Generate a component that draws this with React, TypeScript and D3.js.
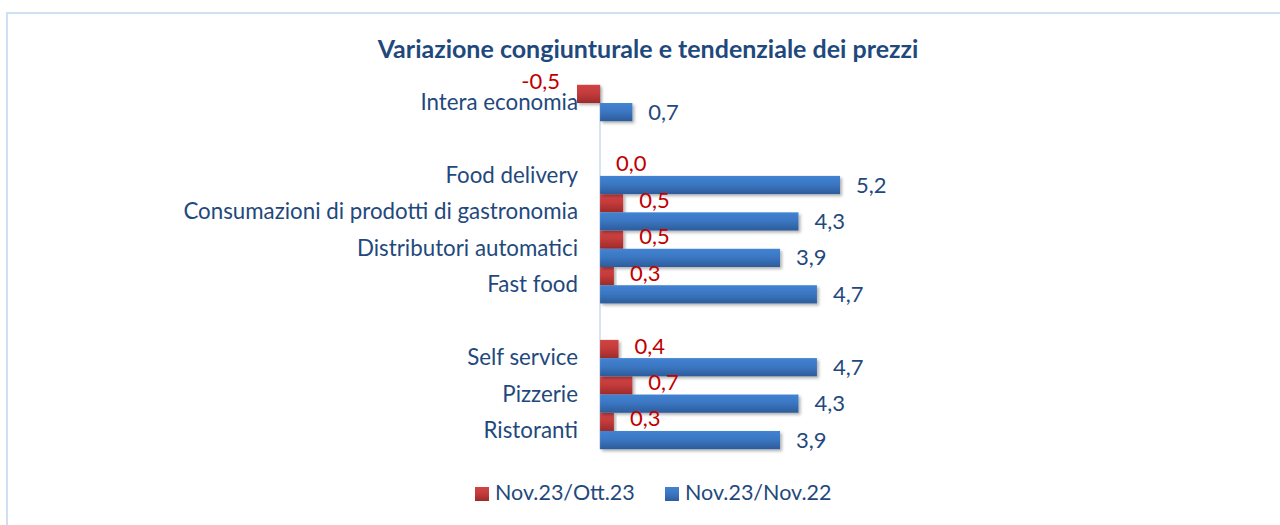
import React from "react";
import * as d3 from "d3";

const title = "Variazione congiunturale e tendenziale dei prezzi";
const categories = [
  "Intera economia",
  "",
  "Food delivery",
  "Consumazioni di prodotti di gastronomia",
  "Distributori automatici",
  "Fast food",
  "",
  "Self service",
  "Pizzerie",
  "Ristoranti",
];
const seriesNames = ["Nov.23/Ott.23", "Nov.23/Nov.22"];
const congiunturale: (number | null)[] = [-0.5, null, 0.0, 0.5, 0.5, 0.3, null, 0.4, 0.7, 0.3];
const tendenziale: (number | null)[] = [0.7, null, 5.2, 4.3, 3.9, 4.7, null, 4.7, 4.3, 3.9];

const W = 1280;
const H = 525;
const FONT = "Lato, 'Open Sans', sans-serif";
const TEXT_BLUE = "#1f497d";
const RED_LABEL = "#c00000";

const fmt = (v: number) => v.toFixed(1).replace(".", ",");

export default function App() {
  const x = d3.scaleLinear().domain([-0.5, 5.2]).range([577, 840]);
  const y = d3
    .scaleBand<number>()
    .domain(categories.map((_, i) => i))
    .range([84.8, 449.2])
    .padding(0);
  const bw = y.bandwidth();
  const half = bw / 2;
  const x0 = x(0);

  const series = [
    { name: seriesNames[0], values: congiunturale, grad: "gradRed", label: RED_LABEL, off: 0 },
    { name: seriesNames[1], values: tendenziale, grad: "gradBlue", label: TEXT_BLUE, off: half },
  ];

  return (
    <div style={{ position: "absolute", left: 0, top: 0 }}>
      <svg width={W} height={H} style={{ display: "block", background: "#fff" }}>
        <defs>
          <linearGradient id="gradRed" x1="0" y1="0" x2="0" y2="1">
            <stop offset="0" stopColor="#d24444" />
            <stop offset="0.5" stopColor="#c23a3a" />
            <stop offset="1" stopColor="#9c2a2a" />
          </linearGradient>
          <linearGradient id="gradBlue" x1="0" y1="0" x2="0" y2="1">
            <stop offset="0" stopColor="#4283d3" />
            <stop offset="0.5" stopColor="#3a75c0" />
            <stop offset="1" stopColor="#2d5c9a" />
          </linearGradient>
          <filter id="shadow" x="-10%" y="-30%" width="130%" height="180%">
            <feDropShadow dx="2" dy="2" stdDeviation="1.5" floodColor="#000" floodOpacity="0.3" />
          </filter>
        </defs>
        <rect x={7} y={13} width={W} height={H} fill="#fff" stroke="#cfe0f2" strokeWidth={2} />
        <text
          x={648}
          y={52}
          textAnchor="middle"
          dominantBaseline="middle"
          fontFamily={FONT}
          fontWeight="bold"
          fontSize={25}
          fill={TEXT_BLUE}
        >
          {title}
        </text>
        <line x1={x0} x2={x0} y1={84.8} y2={449.2} stroke="#d9e4f1" strokeWidth={2} />
        {categories.map((c, i) =>
          c ? (
            <text
              key={"c" + i}
              x={578}
              y={(y(i) as number) + half + 1.5}
              textAnchor="end"
              dominantBaseline="middle"
              fontFamily={FONT}
              fontSize={22.3}
              fill={TEXT_BLUE}
            >
              {c}
            </text>
          ) : null
        )}
        {series.map((s, si) =>
          s.values.map((v, i) => {
            if (v === null) return null;
            const top = (y(i) as number) + s.off;
            const xa = Math.min(x0, x(v));
            const wdt = Math.abs(x(v) - x0);
            return wdt > 0 ? (
              <rect
                key={"b" + si + "-" + i}
                x={xa}
                y={top}
                width={wdt}
                height={half}
                fill={`url(#${s.grad})`}
                filter="url(#shadow)"
              />
            ) : null;
          })
        )}
        {series.map((s, si) =>
          s.values.map((v, i) => {
            if (v === null) return null;
            const top = (y(i) as number) + s.off;
            const neg = v < 0;
            const ly = neg ? top - 1 : top + half / 2 + (si === 0 ? -1 : 2);
            return (
              <text
                key={"l" + si + "-" + i}
                x={neg ? x(v) - 17 : x(v) + 16}
                y={ly}
                textAnchor={neg ? "end" : "start"}
                dominantBaseline="middle"
                fontFamily={FONT}
                fontSize={22}
                fill={s.label}
              >
                {fmt(v)}
              </text>
            );
          })
        )}
        {series.map((s, si) => {
          const lx = si === 0 ? 475 : 665;
          return (
            <g key={"lg" + si}>
              <rect x={lx} y={487} width={14} height={14} fill={`url(#${s.grad})`} />
              <text
                x={lx + 20}
                y={495}
                dominantBaseline="middle"
                fontFamily={FONT}
                fontSize={21.5}
                fill={TEXT_BLUE}
              >
                {s.name}
              </text>
            </g>
          );
        })}
      </svg>
    </div>
  );
}
